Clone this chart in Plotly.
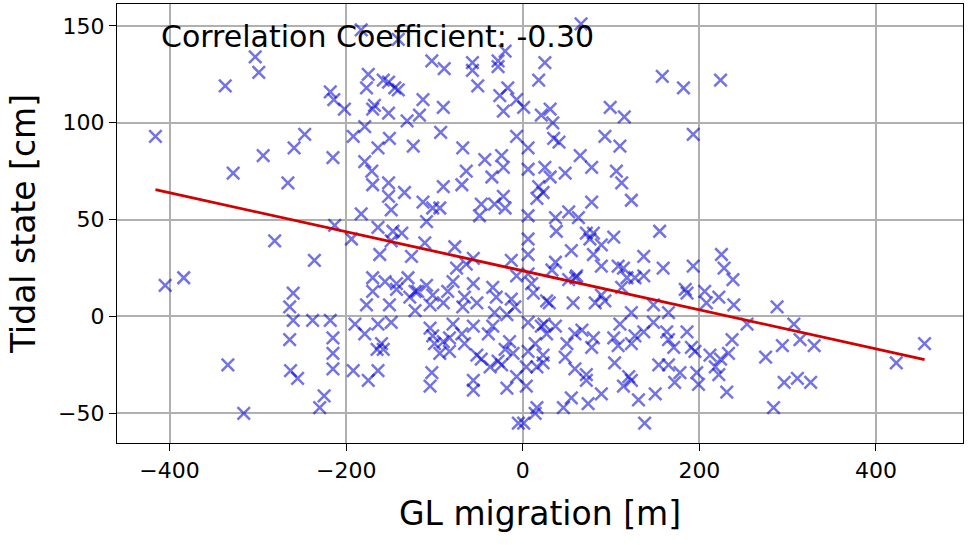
import numpy as np
import plotly.graph_objects as go

# GL migration [m] (x) and tidal state [cm] (y)
gl_migration = [
    -416, -405, -384, -337, -328, -334, -316, -303, -299, -294, -281, -266, -259, -247, -236, -260,
    -264, -260, -238, -218, -264, -263, -255, -225, -230, -218, -214, -215, -213, -215, -215, -215,
    -183, -141, -103, -89, -57, -57, -28, -28, -20, -175, -177, -158, -152, -145, -141, -202,
    -170, -168, -152, -113, -117, -90, -131, -51, -17, -26, -22, -7, -192, -179, -151, -164,
    -179, -124, -93, -68, -43, -24, -7,
    -171, -170, -152, -134, -152, -149, -183, -113, -102, -94, -90, -69, -64, -35, -22, -47,
    -49, -32, -22, -20, -109, -194, -164, -147, -137, -149, -111, -162, -126, -77, -56, -64,
    -75, -13, -7, -170, -156, -143, -143, -130, -122, -109, -79, -85, -56, -170, -177, -151,
    -128, -119, -102, -105, -66, -68, -52, -34, -30, -13, -9,
    -122, -90, -32, -18, -190, -164, -149, -179, -160, -158, -165, -192, -175, -164, -105, -102,
    -100, -90, -83, -83, -94, -79, -69, -66, -56, -52, -47, -39, -34, -37, -28, -24,
    -20, -11, -15, -7, -18, -103, -105, -56, -56, -5,
    66, 25, 18, 31, 21, 34, 1, 35, 41, 6, 65, 99, 115, 93, 110, 158, 182, 193,
    6, 25, 31, 48, 78, 106, 112, 123, 18, 23, 16, 78, 6, 37, 52, 63,
    38, 6, 72, 80, 76, 103, 155, 89, 55, 80, 6, 137, 37, 33, 89, 108,
    114, 159, 193, 61, 118, 127, 137, 6, 10, 52, 60, 112, 184, 186, 206, 12,
    27, 30, 57, 82, 89, 93, 148, 208,
    123, 165, 6, 21, 24, 27, 37, 67, 59, 50, 78, 80, 103, 110, 127, 137,
    108, 123, 148, 163, 165, 171, 186, 191, 195, 212, 6, 14, 23, 23, 16, 4,
    4, 48, 59, 72, 72, 104, 120, 123, 114, 154, 165, 178, 172, 197, 199, 89,
    55, 46, 74, 150, 131, 16, 14, 1, 138,
    224, 225, 228, 238, 222, 239, 288, 254, 307, 237, 294, 314, 330, 275, 233, 224,
    218, 222, 231, 296, 311, 326, 284, 423, 455,
]
tidal_state = [
    93, 16, 20, 119, 74, -25, -50, 134, 126, 83, 39, 69, 87, 94, 29, 12,
    5, -2, -2, -2, -12, -28, -32, -41, -47, 116, 112, 82, 47, -11, -19, -27,
    148, 143, 132, 128, 131, 127, 132, 129, 137, 125, 118, 122, 121, 118, 117, 107,
    107, 109, 105, 112, 104, 108, 101, 119, 118, 114, 106, 112, 93, 98, 92, 87,
    80, 88, 95, 87, 81, 83, 93,
    75, 68, 69, 64, 62, 55, 53, 59, 56, 56, 67, 68, 75, 72, 77, 58,
    52, 58, 62, 56, 49, 40, 46, 44, 43, 39, 38, 32, 31, 36, 30, 27,
    25, 29, 21, 20, 18, 17, 14, 20, 13, 16, 18, 13, 17, 13, 6, 6,
    10, 13, 11, 6, 10, 5, 7, 15, 10, 9, 5,
    3, 7, 2, 1, -4, -4, -3, -9, -14, -17, -17, -28, -33, -28, -6, -10,
    -14, -13, -11, -18, -19, -4, -9, -14, -5, -20, -22, -9, -5, -26, -23, -25,
    -17, -19, -13, -31, -37, -29, -36, -33, -38, -55,
    151, 131, 122, 107, 104, 100, 108, 92, 90, 87, 83, 108, 103, 93, 88, 124, 118, 94,
    76, 77, 72, 74, 77, 75, 69, 60, 67, 64, 61, 59, 52, 51, 54, 51,
    44, 40, 43, 43, 40, 41, 44, 37, 34, 32, 32, 31, 28, 24, 26, 26,
    25, 25, 26, 21, 20, 20, 21, 22, 17, 19, 20, 15, 14, 12, 13, 12,
    8, 7, 7, 7, 11, 8, 6, 7,
    2, 2, -3, -5, -4, -9, -5, -7, -9, -14, -16, -11, -11, -4, -10, -8,
    -15, -14, -3, -8, -12, -16, -8, -16, -18, -20, -18, -14, -20, -24, -26, -26,
    -36, -21, -27, -30, -33, -24, -31, -33, -36, -25, -25, -29, -34, -29, -35, -40,
    -42, -47, -45, -40, -43, -47, -50, -55, -55,
    122, 32, 25, 19, 10, 6, 5, -4, -4, -12, -15, -12, -15, -21, -19, -22,
    -26, -30, -39, -34, -32, -34, -47, -24, -14,
]

# Regression line
fit_slope = -0.1007
fit_intercept = 23.6
corr_text = "Correlation Coefficient: -0.30"

x_ticks = [-400, -200, 0, 200, 400]
y_ticks = [-50, 0, 50, 100, 150]

x_arr = np.array(gl_migration, dtype=float)
y_arr = np.array(tidal_state, dtype=float)
line_x = np.array([x_arr.min(), x_arr.max()])
line_y = fit_slope * line_x + fit_intercept

xpad = 0.05 * (x_arr.max() - x_arr.min())
ypad = 0.05 * (y_arr.max() - y_arr.min())

FONT = "DejaVu Sans"

fig = go.Figure()
fig.add_trace(go.Scatter(
    x=x_arr, y=y_arr, mode="markers",
    marker=dict(symbol="x-thin", size=12.5,
                line=dict(width=2.5, color="rgba(0,0,210,0.55)"),
                color="rgba(0,0,210,0.55)"),
    showlegend=False, hoverinfo="x+y",
))
fig.add_trace(go.Scatter(
    x=line_x, y=line_y, mode="lines",
    line=dict(color="rgb(210,0,0)", width=2.8),
    showlegend=False,
))

axis_common = dict(
    showgrid=True, gridcolor="#b0b0b0", gridwidth=1.6,
    showline=True, linecolor="black", linewidth=1.3, mirror=True,
    ticks="outside", ticklen=7, tickwidth=1.3, tickcolor="black",
    zeroline=False,
    tickfont=dict(family=FONT, size=22, color="black"),
)

fig.update_layout(
    width=970, height=545,
    margin=dict(l=117, r=7, t=4, b=102),
    paper_bgcolor="white", plot_bgcolor="white",
    font=dict(family=FONT, color="black"),
    xaxis=dict(
        range=[x_arr.min() - xpad, x_arr.max() + xpad],
        tickvals=x_ticks,
        title=dict(text="GL migration [m]", font=dict(family=FONT, size=33), standoff=20),
        **axis_common,
    ),
    yaxis=dict(
        range=[y_arr.min() - ypad, y_arr.max() + ypad],
        tickvals=y_ticks,
        title=dict(text="Tidal state [cm]", font=dict(family=FONT, size=33), standoff=12),
        **axis_common,
    ),
    annotations=[dict(
        text=corr_text, xref="paper", yref="paper", x=0.05, y=0.97,
        xanchor="left", yanchor="top", showarrow=False,
        font=dict(family=FONT, size=30, color="black"),
    )],
)

fig.write_html("out.html")
